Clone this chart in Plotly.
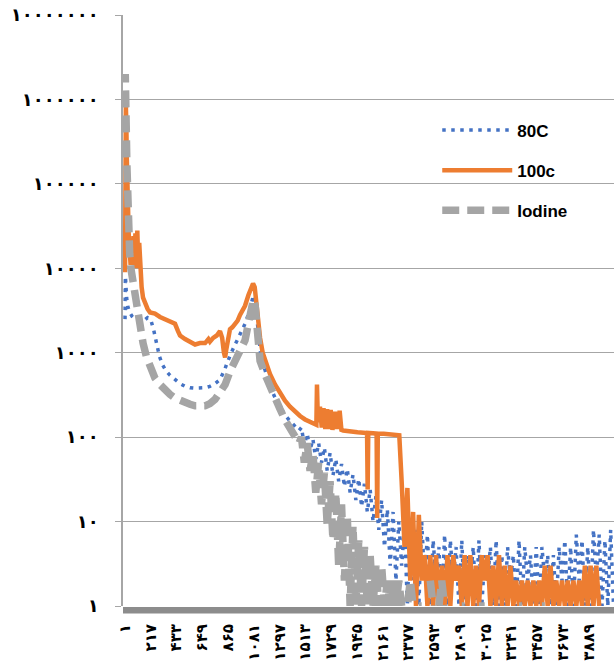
import plotly.graph_objects as go

FA = str.maketrans('0123456789', '۰۱۲۳۴۵۶۷۸۹')
def fa(n):
    return str(n).translate(FA)

# ---------------- axis ticks ----------------
x_ticks = [1, 217, 433, 649, 865, 1081, 1297, 1513, 1729, 1945, 2161, 2377,
           2593, 2809, 3025, 3241, 3457, 3673, 3889]
y_ticks = [1, 10, 100, 1000, 10000, 100000, 1000000, 10000000]

# ---------------- 80C ----------------
c80_head_x = [1, 4, 8, 14, 25, 40, 60, 85, 110, 135, 160, 190, 215, 240, 265, 290, 315, 345,
              378, 420, 462, 504, 546, 588, 630, 672, 713, 755, 797, 820, 840, 860, 881, 905,
              930, 965, 1007, 1040, 1065, 1078, 1092, 1107, 1120, 1140, 1175, 1216, 1260,
              1300, 1340, 1384, 1426, 1460]
c80_head_y = [2500, 8000, 6500, 4500, 3500, 3000, 2700, 2500, 2400, 2350, 2400, 2600, 2500,
              1900, 1300, 900, 720, 610, 540, 480, 430, 400, 385, 380, 380, 385, 400, 430,
              480, 560, 650, 780, 930, 1100, 1300, 1650, 2200, 3000, 4200, 4800, 4000, 2600,
              1500, 900, 620, 400, 290, 230, 185, 155, 135, 120]
c80_tail_start = 1480
c80_tail_y = [130, 80, 110, 70, 95, 55, 85, 50, 75, 40, 65, 35, 55, 30, 48, 26,
              42, 22, 36, 18, 32, 15, 28, 13, 24, 10, 20, 8, 18, 5, 14, 3,
              13, 2, 10, 3, 9, 1, 11, 2, 8, 1, 10, 2, 7, 1, 6, 2,
              5, 1, 7, 1, 6, 2, 5, 1, 6, 1, 4, 2, 5, 1, 6, 1,
              4, 2, 5, 1, 6, 1, 4, 1, 5, 2, 4, 1, 6, 1, 5, 2,
              4, 1, 5, 1, 5, 2, 4, 1, 4, 1, 5, 2, 6, 1, 5, 1,
              7, 2, 6, 1, 5, 1, 8, 2, 7, 1, 6, 1, 8, 1]

# ---------------- 100c ----------------
c100_head_x = [1, 4, 8, 12, 16, 20, 26, 32, 40, 48, 56, 64, 72, 80, 88, 96, 104, 112, 120,
               130, 140, 152, 170, 190, 211, 252, 294, 336, 378, 420, 445, 462, 504, 546,
               588, 630, 672, 700, 713, 740, 770, 797, 815, 830, 840, 850, 865, 881, 900,
               923, 945, 965, 1007, 1035, 1060, 1074, 1088, 1100, 1115, 1133, 1155, 1175,
               1216, 1258, 1300, 1342, 1384, 1426, 1468, 1510, 1552, 1590, 1605, 1610, 1618,
               1635, 1650, 1665, 1680, 1695, 1710, 1725, 1740, 1760, 1780, 1800, 1815, 1830,
               1860, 1900, 1950, 2000, 2030, 2035, 2040, 2080, 2110, 2115, 2120, 2170, 2222,
               2270, 2300]
c100_head_y = [9000, 400000, 850000, 500000, 200000, 90000, 45000, 25000, 16000, 11000,
               20000, 11000, 24000, 12000, 26000, 10000, 28000, 11000, 20000, 9000, 6000,
               4500, 3800, 3300, 3000, 2900, 2650, 2500, 2350, 2200, 1800, 1600, 1450, 1350,
               1250, 1300, 1300, 1450, 1350, 1500, 1600, 1800, 1500, 1000, 880, 1100, 1500,
               1900, 2000, 2200, 2400, 2800, 3600, 4800, 6000, 6600, 6000, 4200, 2400, 1500,
               1000, 800, 560, 420, 330, 270, 230, 200, 178, 162, 150, 142, 140, 420, 150,
               230, 130, 220, 125, 215, 125, 210, 122, 200, 125, 205, 122, 120, 118, 116,
               114, 113, 112, 24, 112, 111, 110, 11, 110, 110, 109, 108, 105]
c100_tail_start = 2320
c100_tail_y = [30, 5, 25, 2, 13, 1, 12, 2, 4, 1, 4, 1, 4, 1, 3, 1,
               4, 1, 4, 2, 3, 1, 4, 1, 4, 1, 3, 1, 4, 2, 4, 1,
               3, 1, 4, 1, 3, 1, 3, 1, 2, 1, 2, 1, 2, 1, 2, 1,
               2, 1, 3, 1, 3, 1, 2, 1, 2, 1, 2, 1, 2, 1, 2, 1,
               3, 1, 3, 1, 3, 1]

# ---------------- Iodine ----------------
iod_head_x = [1, 3, 6, 9, 12, 16, 20, 26, 32, 40, 50, 60, 72, 85, 100, 115, 127, 152, 180,
              211, 252, 294, 336, 378, 420, 462, 504, 546, 588, 630, 672, 713, 755, 797,
              840, 881, 923, 965, 1007, 1040, 1065, 1078, 1092, 1107, 1120, 1133, 1175,
              1216, 1258, 1300, 1342, 1384, 1426, 1460]
iod_head_y = [800000, 2000000, 1500000, 800000, 400000, 180000, 90000, 45000, 25000, 15000,
              10000, 8000, 6500, 4200, 3200, 2400, 2000, 1300, 900, 650, 500, 420, 360, 320,
              290, 270, 255, 245, 235, 230, 235, 250, 280, 340, 420, 600, 780, 1000, 1400,
              2400, 3600, 4300, 3600, 1800, 1100, 800, 550, 390, 290, 215, 160, 125, 100, 85]
iod_tail_start = 1480
iod_tail_y = [100, 50, 85, 40, 65, 22, 50, 16, 38, 9, 30, 6, 22, 3, 16, 2,
              12, 1, 9, 1, 6, 1, 5, 1, 4, 1, 3, 1, 3, 1, 2, 1,
              2, 1, 2, 1, 1, 1, 2, 1, None, 1, 1, None, None, 2, 1, None,
              1, 2, 1, None, None, None, None, None, 1, 1, None, None, None, None, 1, 1,
              1, None, None, None, None, None, None, None, None, None, None, None,
              1, 1, None, None, None, None, None, None, 1, 1, None, None]

def tail_x(start, vals):
    return list(range(start, start + 24 * len(vals), 24))

series = [
    ("80C", c80_head_x + tail_x(c80_tail_start, c80_tail_y), c80_head_y + c80_tail_y,
     dict(color="#4472C4", width=3.5, dash="3.5px,5.5px")),
    ("100c", c100_head_x + tail_x(c100_tail_start, c100_tail_y), c100_head_y + c100_tail_y,
     dict(color="#ED7D31", width=4.5)),
    ("Iodine", iod_head_x + tail_x(iod_tail_start, iod_tail_y), iod_head_y + iod_tail_y,
     dict(color="#A5A5A5", width=7.5, dash="17px,8px")),
]

fig = go.Figure()
for name, xs, ys, line in series:
    fig.add_trace(go.Scatter(x=xs, y=ys, mode="lines", name=name, line=line,
                             legendgroup=name, connectgaps=False))

fig.add_shape(type="rect", xref="paper", yref="paper", x0=0, x1=1, y0=-0.0125, y1=-0.0015,
              fillcolor="#8C8C8C", line=dict(width=0), layer="above")

tick_family = "DejaVu Sans"

fig.update_layout(
    width=614, height=666,
    margin=dict(l=123, r=0, t=15, b=60),
    paper_bgcolor="white", plot_bgcolor="white",
    showlegend=True,
    legend=dict(x=0.64, y=0.835, xanchor="left", yanchor="top", itemwidth=70,
                bgcolor="rgba(0,0,0,0)", traceorder="grouped", tracegroupgap=15,
                font=dict(family="Liberation Sans", size=17, color="black", weight="bold")),
    xaxis=dict(range=[-16, 4100], tickmode="array", tickvals=x_ticks,
               ticktext=[fa(v) for v in x_ticks], tickangle=-90,
               tickfont=dict(family=tick_family, size=15, color="black", weight="bold"),
               showgrid=False, zeroline=False, showline=False, ticks="",
               ticklabelstandoff=14),
    yaxis=dict(type="log", range=[0, 7], tickmode="array", tickvals=y_ticks,
               ticktext=[fa(v) for v in y_ticks],
               tickfont=dict(family=tick_family, size=18, color="black", weight="bold"),
               showgrid=True, gridcolor="#A6A6A6", gridwidth=1,
               showline=True, linecolor="#A6A6A6", linewidth=1.5,
               ticks="outside", ticklen=6, tickcolor="#A6A6A6",
               zeroline=False, ticklabelstandoff=13),
)

fig.write_html("out.html")
